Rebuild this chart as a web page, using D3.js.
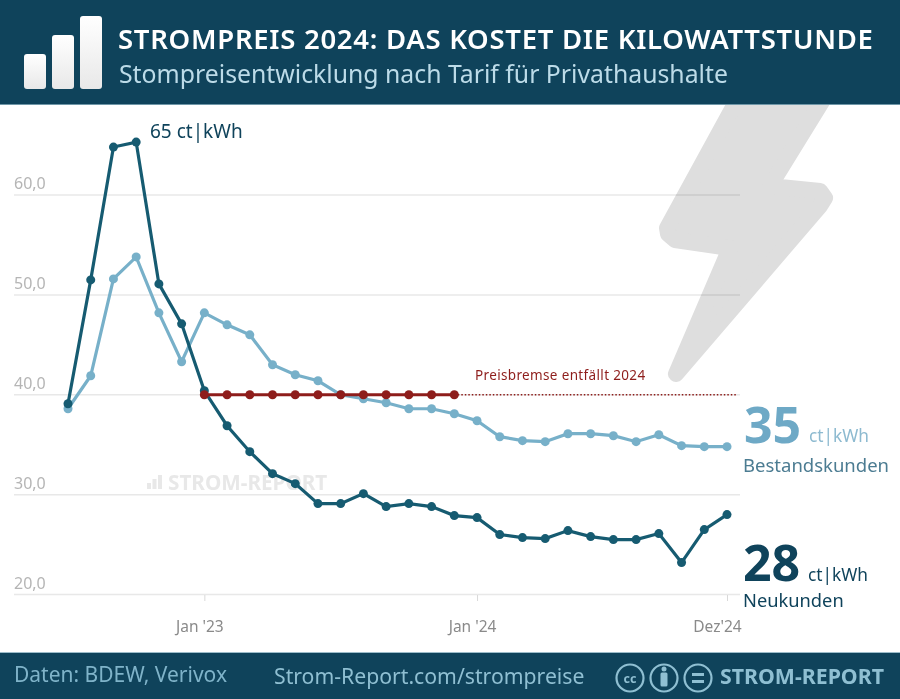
<!DOCTYPE html>
<html>
<head>
<meta charset="utf-8">
<script src="https://cdn.jsdelivr.net/npm/d3@7"></script>
<style>
  html, body { margin: 0; padding: 0; background: #fff; }
  svg { display: block; }
  text { font-family: "Noto Sans", "Open Sans", sans-serif; }
</style>
</head>
<body>
<div id="container"></div>
<script>
// Months from Jul '22 to Dez '24
const months = [
  "Jul 22","Aug 22","Sep 22","Okt 22","Nov 22","Dez 22",
  "Jan 23","Feb 23","Mrz 23","Apr 23","Mai 23","Jun 23","Jul 23","Aug 23","Sep 23","Okt 23","Nov 23","Dez 23",
  "Jan 24","Feb 24","Mrz 24","Apr 24","Mai 24","Jun 24","Jul 24","Aug 24","Sep 24","Okt 24","Nov 24","Dez 24"
];
const neukunden = [
  39.1,51.5,64.8,65.3,51.1,47.1,
  40.4,36.9,34.3,32.1,31.1,29.1,29.1,30.1,28.8,29.1,28.8,27.9,
  27.7,26.0,25.7,25.6,26.4,25.8,25.5,25.5,26.1,23.2,26.5,28.0
];
const bestandskunden = [
  38.6,41.9,51.6,53.8,48.2,43.3,
  48.2,47.0,46.0,43.0,42.0,41.4,40.0,39.6,39.2,38.6,38.6,38.1,
  37.4,35.8,35.4,35.3,36.1,36.1,35.9,35.3,36.0,34.9,34.8,34.8
];
const preisbremseMonths = months.slice(6, 18);
const preisbremseWert = 40;
const yTicks = [20, 30, 40, 50, 60];
const xTicks = ["Jan 23", "Jan 24", "Dez 24"];
const xTickLabels = { "Jan 23": "Jan '23", "Jan 24": "Jan '24", "Dez 24": "Dez'24" };

const width = 900;
const height = 699;
const dark = "#165b71";
const light = "#77b0c9";
const red = "#8e1d1b";
const navy = "#0f435b";
const footerText = "#8fbfd2";

const svg = d3.select("#container").append("svg")
  .attr("width", width)
  .attr("height", height);

const xScale = d3.scalePoint().domain(months).range([68, 727]);
const yScale = d3.scaleLinear().domain([20, 60]).range([594.5, 195]);

// Lightning bolt in the background
const bolt = [[737,100],[823,100],[770,186],[820,191],[825,198],[820,206],[676,374],[730,248],[675,240],[668,234],[667,228]];
svg.append("path")
  .attr("d", d3.line()(bolt) + "Z")
  .attr("fill", "#dedede")
  .attr("stroke", "#dedede")
  .attr("stroke-width", 16)
  .attr("stroke-linejoin", "round");

// Grid
svg.append("g")
  .selectAll("line")
  .data(yTicks)
  .enter()
  .append("line")
  .attr("x1", 14)
  .attr("x2", 740)
  .attr("y1", d => yScale(d))
  .attr("y2", d => yScale(d))
  .attr("stroke", "#e8e8e8")
  .attr("stroke-width", 1.5)
  .style("mix-blend-mode", "multiply");

svg.append("g")
  .selectAll("text")
  .data(yTicks)
  .enter()
  .append("text")
  .attr("x", 14)
  .attr("y", d => yScale(d) - 6)
  .attr("font-size", 16)
  .attr("fill", "#b5b5b5")
  .text(d => d3.format(".1f")(d).replace(".", ","));

// Watermark
const markBars = [6, 10, 14];
svg.append("g")
  .selectAll("rect")
  .data(markBars)
  .enter()
  .append("rect")
  .attr("x", (d, i) => 147 + i * 5.5)
  .attr("y", d => 489 - d)
  .attr("width", 4)
  .attr("height", d => d)
  .attr("fill", "#e8e8e8");
svg.append("text")
  .attr("x", 168)
  .attr("y", 490)
  .attr("font-size", 20.7)
  .attr("font-weight", 700)
  .attr("fill", "#e8e8e8")
  .text("STROM-REPORT");

// X axis
const xAxis = d3.axisBottom(xScale)
  .tickValues(xTicks)
  .tickSize(6)
  .tickFormat(d => xTickLabels[d]);
const xAxisG = svg.append("g")
  .attr("transform", "translate(0,595)")
  .call(xAxis);
xAxisG.select(".domain").remove();
xAxisG.selectAll("line").attr("stroke", "#d9d9d9");
xAxisG.selectAll("text")
  .attr("y", 26)
  .attr("dx", d => d === "Dez 24" ? -10 : -5)
  .attr("font-size", 15.5)
  .attr("fill", "#8a8a8a")
  .style("font-family", '"Noto Sans", sans-serif');

// Dotted Preisbremse line
svg.append("line")
  .attr("x1", xScale("Dez 23"))
  .attr("x2", 736)
  .attr("y1", yScale(preisbremseWert))
  .attr("y2", yScale(preisbremseWert))
  .attr("stroke", red)
  .attr("stroke-width", 1.5)
  .attr("stroke-dasharray", "1.5 2");

const line = d3.line().x((d, i) => xScale(months[i])).y(d => yScale(d));

function drawSeries(values, color) {
  svg.append("path")
    .attr("d", line(values))
    .attr("fill", "none")
    .attr("stroke", color)
    .attr("stroke-width", 3.2);
  svg.append("g")
    .selectAll("circle")
    .data(values)
    .enter()
    .append("circle")
    .attr("cx", (d, i) => xScale(months[i]))
    .attr("cy", d => yScale(d))
    .attr("r", 4.5)
    .attr("fill", color);
}
drawSeries(bestandskunden, light);
drawSeries(neukunden, dark);

// Preisbremse
svg.append("line")
  .attr("x1", xScale(preisbremseMonths[0]))
  .attr("x2", xScale(preisbremseMonths[preisbremseMonths.length - 1]))
  .attr("y1", yScale(preisbremseWert))
  .attr("y2", yScale(preisbremseWert))
  .attr("stroke", red)
  .attr("stroke-width", 3.2);
svg.append("g")
  .selectAll("circle")
  .data(preisbremseMonths)
  .enter()
  .append("circle")
  .attr("cx", d => xScale(d))
  .attr("cy", yScale(preisbremseWert))
  .attr("r", 4.5)
  .attr("fill", red);

// Annotations
svg.append("text").attr("x", 475).attr("y", 380)
  .attr("font-size", 13.5).attr("fill", red).attr("letter-spacing", 0.35)
  .text("Preisbremse entfällt 2024");
svg.append("text").attr("x", 150).attr("y", 138)
  .attr("font-size", 19).attr("fill", navy)
  .text("65 ct|kWh");

svg.append("text").attr("x", 744).attr("y", 443)
  .attr("font-size", 50).attr("font-weight", 700).attr("fill", "#6ea9c6").text("35");
svg.append("text").attr("x", 809).attr("y", 442)
  .attr("font-size", 17.3).attr("fill", "#8dbad0").text("ct|kWh");
svg.append("text").attr("x", 743).attr("y", 472)
  .attr("font-size", 18.5).attr("fill", "#4c7c92").text("Bestandskunden");

svg.append("text").attr("x", 743).attr("y", 581)
  .attr("font-size", 50).attr("font-weight", 700).attr("fill", navy).text("28");
svg.append("text").attr("x", 808).attr("y", 581)
  .attr("font-size", 17.3).attr("fill", navy).text("ct|kWh");
svg.append("text").attr("x", 743).attr("y", 607)
  .attr("font-size", 18.3).attr("fill", navy).text("Neukunden");

// Header
svg.append("rect").attr("width", width).attr("height", 104).attr("fill", navy);
svg.append("rect").attr("y", 104).attr("width", width).attr("height", 1).attr("fill", "#6f97a8");
const grad = svg.append("defs").append("linearGradient")
  .attr("id", "barGrad").attr("x1", 0).attr("x2", 0).attr("y1", 0).attr("y2", 1);
grad.append("stop").attr("offset", 0).attr("stop-color", "#ffffff");
grad.append("stop").attr("offset", 1).attr("stop-color", "#e8e8e8");
svg.append("g")
  .selectAll("rect")
  .data([[24, 54], [52, 35], [80, 16]])
  .enter()
  .append("rect")
  .attr("x", d => d[0])
  .attr("y", d => d[1])
  .attr("width", 22)
  .attr("height", d => 89 - d[1])
  .attr("rx", 3)
  .attr("fill", "url(#barGrad)");
svg.append("text").attr("x", 118).attr("y", 49)
  .attr("font-size", 27.5).attr("font-weight", 600).attr("fill", "#fff").attr("letter-spacing", 0.72)
  .text("STROMPREIS 2024: DAS KOSTET DIE KILOWATTSTUNDE");
svg.append("text").attr("x", 119).attr("y", 83)
  .attr("font-size", 24.8).attr("fill", "#bcdbe8")
  .text("Stompreisentwicklung nach Tarif für Privathaushalte");

// Footer
svg.append("rect").attr("y", 653).attr("width", width).attr("height", 46).attr("fill", navy);
svg.append("rect").attr("y", 652).attr("width", width).attr("height", 1).attr("fill", "#9dbdca");
svg.append("text").attr("x", 14).attr("y", 682)
  .attr("font-size", 21).attr("fill", "#7fb3c9").text("Daten: BDEW, Verivox");
svg.append("text").attr("x", 274).attr("y", 684)
  .attr("font-size", 21.2).attr("fill", footerText).text("Strom-Report.com/strompreise");

// Licence icons
const ccCenters = [630, 664, 698];
const icons = svg.append("g");
icons.selectAll("circle")
  .data(ccCenters)
  .enter()
  .append("circle")
  .attr("cx", d => d)
  .attr("cy", 678)
  .attr("r", 13.5)
  .attr("fill", "none")
  .attr("stroke", footerText)
  .attr("stroke-width", 2.2);
icons.append("text")
  .attr("x", ccCenters[0])
  .attr("y", 682.5)
  .attr("text-anchor", "middle")
  .attr("font-size", 12.5)
  .attr("font-weight", 700)
  .attr("fill", footerText)
  .text("cc");
icons.append("circle").attr("cx", ccCenters[1]).attr("cy", 669).attr("r", 2.5).attr("fill", footerText);
icons.append("rect").attr("x", ccCenters[1] - 3.5).attr("y", 672.5).attr("width", 7).attr("height", 14).attr("rx", 1.5).attr("fill", footerText);
icons.append("rect").attr("x", ccCenters[2] - 6).attr("y", 673).attr("width", 12).attr("height", 3).attr("fill", footerText);
icons.append("rect").attr("x", ccCenters[2] - 6).attr("y", 680).attr("width", 12).attr("height", 3).attr("fill", footerText);
svg.append("text").attr("x", 720).attr("y", 684)
  .attr("font-size", 21.3).attr("font-weight", 700).attr("fill", footerText)
  .text("STROM-REPORT");
</script>
</body>
</html>
